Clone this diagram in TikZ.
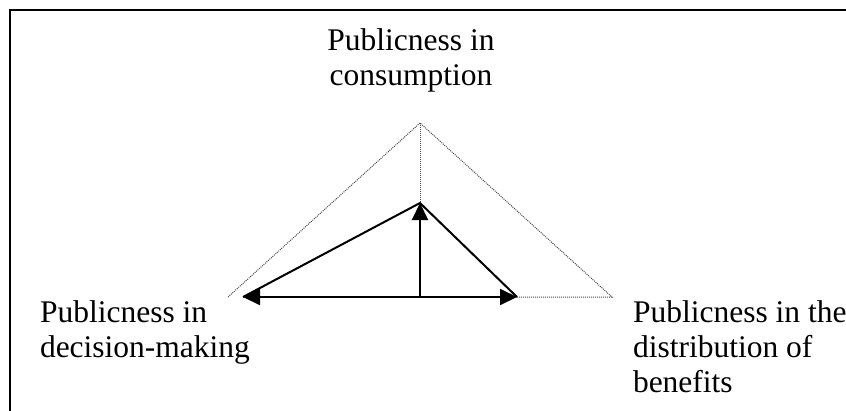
\documentclass[tikz,border=0pt]{standalone}
\usepackage{fontspec}
\setmainfont{Liberation Serif}
\usetikzlibrary{arrows.meta}
\tikzset{
  lbl/.style={inner sep=0pt, outer sep=0pt, font=\fontsize{31.5}{35}\selectfont},
  guide/.style={draw=black!70, line width=1pt, dash pattern=on 1pt off 1pt},
  solid edge/.style={draw=black, line width=2pt},
  arr/.style={draw=black, line width=2pt, -{Triangle[length=17pt,width=16pt]}},
  frame/.style={draw=black, line width=2pt}
}
\begin{document}
\begin{tikzpicture}[x=1pt,y=-1pt]
\useasboundingbox (0,0) rectangle (846,410);
% frame
\coordinate (fbl) at (10,412);
\coordinate (ftl) at (10,10);
\coordinate (ftr) at (848,10);
\draw[frame] (fbl) -- (ftl) -- (ftr);
% outer dotted triangle
\coordinate (A) at (420,123);
\coordinate (DL) at (228,297);
\coordinate (DR) at (612,297);
% inner solid triangle
\coordinate (T) at (420,203);
\coordinate (L) at (243,297);
\coordinate (R) at (517,297);
\coordinate (O) at (420,297);
\draw[guide] (DL) -- (A) -- (DR) -- (R);
\draw[guide] (A) -- (T);
\draw[solid edge, line join=miter] (L) -- (T) -- (R);
\draw[arr] (O) -- (T);
\draw[arr] (O) -- (L);
\draw[arr] (O) -- (R);
% labels
\node[lbl, anchor=base] (top) at (411,50)
  {\vtop{\baselineskip=35pt\halign{\hfil#\hfil\cr Publicness in\cr consumption\cr}}};
\node[lbl, anchor=base west] (left) at (40,322)
  {\vtop{\baselineskip=35pt\hbox{Publicness in}\hbox{decision-making}}};
\node[lbl, anchor=base west] (right) at (633,322)
  {\vtop{\baselineskip=35pt\hbox{Publicness in the}\hbox{distribution of}\hbox{benefits}}};
\end{tikzpicture}
\end{document}
